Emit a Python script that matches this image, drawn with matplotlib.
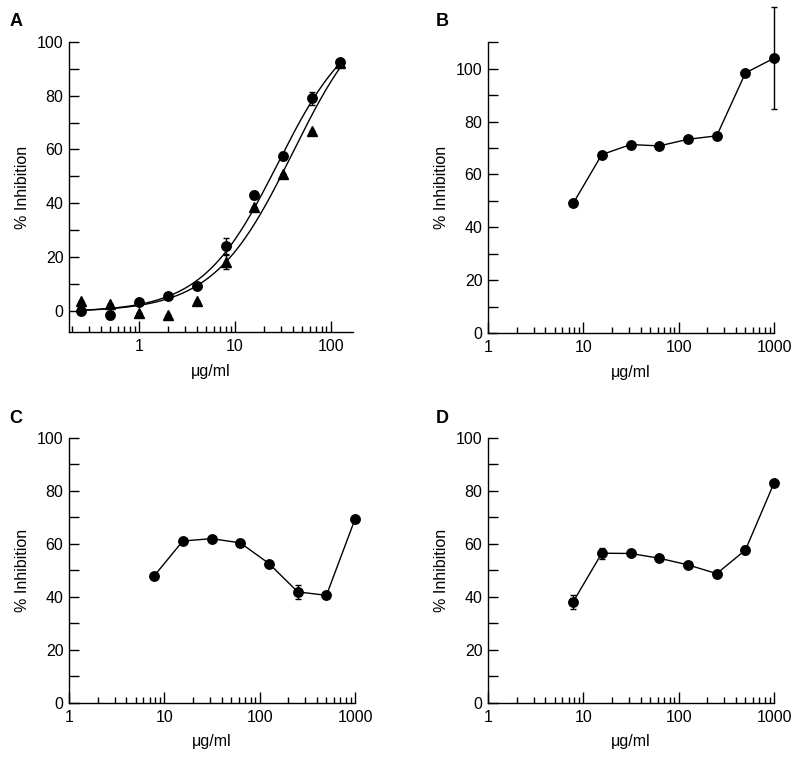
import numpy as np
import matplotlib.pyplot as plt
from matplotlib.ticker import LogLocator, FixedLocator, NullFormatter

plt.rcParams['font.family'] = ['Liberation Sans', 'DejaVu Sans']
plt.rcParams['font.size'] = 11.5

# panel A: two-fold dilution series, circles and triangles
conc_a = [0.25, 0.5, 1, 2, 4, 8, 16, 32, 64, 125]
circ_a = [0, -1.5, 3, 5.5, 9, 24, 43, 57.5, 79, 92.5]
circ_a_err = [1, 1.5, 0.5, 1, 0.5, 3, 1.5, 1.5, 2.5, 0.5]
tri_a = [3.5, 2.5, -1, -1.5, 3.5, 18, 38.5, 51, 67, 92]
tri_a_err = [0, 0, 0, 0, 0, 2.5, 0, 0, 0, 0]
# fitted sigmoid parameters (bottom, top, EC50, hill)
fit_circ = (-0.5, 110, 28, 1.1)
fit_tri = (-0.5, 118, 40, 1.05)

# panels B-D share the concentration series
conc = [7.8, 15.6, 31.25, 62.5, 125, 250, 500, 1000]
val_b = [49, 67.5, 71.3, 70.8, 73.3, 74.6, 98.4, 104]
err_b = [0, 0, 0, 0, 0, 0, 0, 19.3]
val_c = [47.8, 61, 61.9, 60.3, 52.5, 41.8, 40.5, 69.4]
err_c = [0, 0, 0, 0, 0, 2.5, 0, 0]
val_d = [38, 56.4, 56.3, 54.5, 52, 48.7, 57.6, 83]
err_d = [2.5, 2, 0, 0, 1, 0, 1.5, 0]


def hill(x, bottom, top, ec50, h):
    return bottom + (top - bottom) / (1 + (ec50 / x) ** h)


def style(ax, xlim, ylim, ytop_tick):
    ax.set_xscale('log')
    ax.set_xlim(*xlim)
    ax.set_ylim(*ylim)
    for s in ['top', 'right']:
        ax.spines[s].set_visible(False)
    for s in ['left', 'bottom']:
        ax.spines[s].set_linewidth(1.0)
    ax.spines['left'].set_bounds(ylim[0], ytop_tick)
    ax.yaxis.set_major_locator(FixedLocator(np.arange(0, ytop_tick + 1, 20)))
    ax.yaxis.set_minor_locator(FixedLocator(np.arange(10, ytop_tick + 1, 20)))
    ax.yaxis.set_minor_formatter(NullFormatter())
    ax.xaxis.set_major_locator(LogLocator(base=10, numticks=10))
    ax.xaxis.set_minor_locator(LogLocator(base=10, subs=np.arange(2, 10), numticks=20))
    ax.xaxis.set_minor_formatter(NullFormatter())
    ax.xaxis.set_major_formatter(plt.FuncFormatter(lambda v, p: f'{v:g}'))
    ax.tick_params(axis='y', which='both', direction='in', length=7, width=1, pad=4)
    ax.tick_params(axis='x', which='major', direction='in', length=8, width=1, pad=5)
    ax.tick_params(axis='x', which='minor', direction='in', length=4, width=1)
    ax.set_ylabel('% Inhibition', labelpad=5)
    ax.set_xlabel('\u03bcg/ml', labelpad=7)


fig = plt.figure(figsize=(7.94, 7.58), dpi=100)

mk = dict(color='black', markersize=6.8, linewidth=1.0, capsize=2.5, elinewidth=1.0,
          capthick=1.0, clip_on=False, zorder=3)

# A
axA = fig.add_axes([0.0869, 0.562, 0.3577, 0.3826])
xs = np.logspace(np.log10(0.25), np.log10(125), 200)
axA.plot(xs, hill(xs, *fit_circ), color='black', lw=1.0)
axA.plot(xs, hill(xs, *fit_tri), color='black', lw=1.0)
axA.errorbar(conc_a, circ_a, yerr=circ_a_err, fmt='o', **mk)
axA.errorbar(conc_a, tri_a, yerr=tri_a_err, fmt='^', **mk)
style(axA, (0.187, 170), (-8, 100), 100)

# B
axB = fig.add_axes([0.6146, 0.5607, 0.3604, 0.3835])
axB.errorbar(conc, val_b, yerr=err_b, fmt='o-', **mk)
style(axB, (1, 1000), (0, 110), 110)
axB.yaxis.set_major_locator(FixedLocator(np.arange(0, 101, 20)))
axB.yaxis.set_minor_locator(FixedLocator(np.arange(10, 111, 20)))

# C
axC = fig.add_axes([0.0869, 0.073, 0.3604, 0.3496])
axC.errorbar(conc, val_c, yerr=err_c, fmt='o-', **mk)
style(axC, (1, 1000), (0, 100), 100)

# D
axD = fig.add_axes([0.6146, 0.073, 0.3604, 0.3496])
axD.errorbar(conc, val_d, yerr=err_d, fmt='o-', **mk)
style(axD, (1, 1000), (0, 100), 100)

for lab, (x, y) in zip('ABCD', [(0.012, 0.971), (0.549, 0.971), (0.012, 0.448), (0.549, 0.448)]):
    fig.text(x, y, lab, fontsize=13, fontweight='bold', va='center', ha='left')

fig.savefig('out.png', dpi=100)
